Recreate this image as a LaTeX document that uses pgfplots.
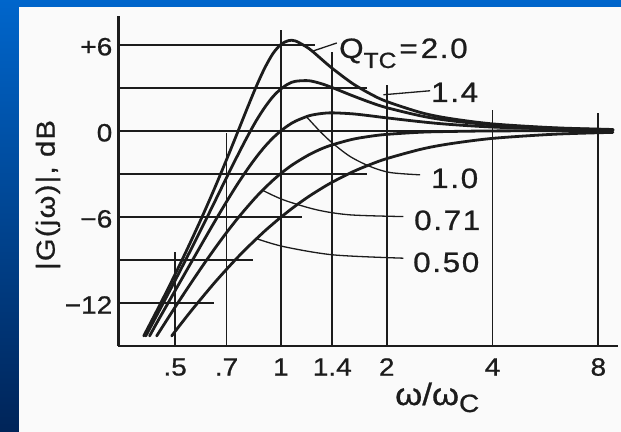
\documentclass[border=0pt]{standalone}
\usepackage{fontspec}
\setmainfont{Liberation Sans}[FakeStretch=1.12, FakeBold=0.8]
\usepackage{pgfplots}
\pgfplotsset{compat=1.18}

\definecolor{ink}{RGB}{28,28,28}
\definecolor{slidetop}{RGB}{0,102,204}
\definecolor{slidebot}{RGB}{0,36,88}
\newcommand{\fs}[1]{\fontsize{#1}{#1}\selectfont}

\pgfplotsset{
  curve/.style={ink, line width=2.8pt, smooth, no markers, line cap=round, line join=round},
  gseg/.style={ink, line width=1.8pt, no markers},
  leader/.style={ink, line width=1.3pt, smooth, no markers},
}

\begin{document}
\begin{tikzpicture}
\useasboundingbox (0,0) rectangle (621pt,431pt);
% slide background and the scanned page
\shade[top color=slidetop, bottom color=slidebot] (-2pt,-2pt) rectangle (623pt,433pt);
\fill[white!98!black] (19pt,-3pt) rectangle (624pt,424pt);

\begin{axis}[
  at={(118.5pt,85pt)}, anchor=south west,
  scale only axis, width=499.5pt, height=330pt,
  xmode=log, xmin=0.345, xmax=9.1, ymin=-15, ymax=8,
  axis lines*=left, axis line style={-, line width=2.2pt, draw=ink},
  major tick length=0pt, tick style={draw=none},
  xtick={0.5,0.7,1,1.4,2,4,8}, xticklabels={.5,.7,1,1.4,2,4,8},
  ytick={-12,-6,0,6}, yticklabels={−12,−6,0,+6},
  xticklabel style={anchor=center, yshift=-21pt, font=\fs{25}, text=ink},
  yticklabel style={anchor=east, inner sep=0pt, xshift=-6pt, yshift=-2pt, font=\fs{25}, text=ink},
  clip=false,
]
% partial grid, as in the scan
\addplot[gseg] coordinates {(0.345,6) (1.251,6)};
\addplot[gseg] coordinates {(0.345,3) (1.759,3)};
\addplot[gseg] coordinates {(0.345,0) (8.8,0)};
\addplot[gseg] coordinates {(0.345,-3) (1.756,-3)};
\addplot[gseg] coordinates {(0.345,-6) (1.147,-6)};
\addplot[gseg] coordinates {(0.345,-9) (0.833,-9)};
\addplot[gseg] coordinates {(0.345,-12) (0.646,-12)};
\addplot[gseg] coordinates {(0.5,-15) (0.5,-8.45)};
\addplot[gseg] coordinates {(0.7,-15) (0.7,-0.15)};
\addplot[gseg] coordinates {(1,-15) (1,7.0)};
\addplot[gseg] coordinates {(1.4,-15) (1.4,5.46)};
\addplot[gseg] coordinates {(2,-15) (2,3.2)};
\addplot[gseg] coordinates {(4,-15) (4,1.42)};
\addplot[gseg] coordinates {(8,-15) (8,1.24)};

% Q = 2.0
\addplot[curve] coordinates {(0.407,-14.3) (0.45,-12.24) (0.5,-10.00) (0.55,-7.88) (0.6,-5.86)
  (0.65,-3.91) (0.7,-2.02) (0.75,-0.21) (0.8,1.51) (0.85,3.07) (0.9,4.39) (0.95,5.40) (1,6.02)
  (1.05,6.28) (1.1,6.26) (1.2,5.74) (1.3,5.02) (1.4,4.35) (1.6,3.29) (1.8,2.56) (2,2.04)
  (2.5,1.27) (3,0.87) (4,0.48) (6,0.21) (8.8,0.09)};
% Q = 1.4
\addplot[curve] coordinates {(0.4125,-14.3) (0.45,-12.56) (0.5,-10.43) (0.55,-8.45) (0.6,-6.61)
  (0.65,-4.88) (0.7,-3.27) (0.75,-1.80) (0.8,-0.47) (0.85,0.69) (0.9,1.64) (0.95,2.39) (1,2.92)
  (1.05,3.27) (1.1,3.45) (1.2,3.49) (1.3,3.29) (1.4,3.01) (1.6,2.44) (1.8,1.97) (2,1.61)
  (2.5,1.04) (3,0.72) (4,0.41) (6,0.18) (8.8,0.08)};
% Q = 1.0
\addplot[curve] coordinates {(0.423,-14.3) (0.45,-13.11) (0.5,-11.14) (0.55,-9.36) (0.6,-7.74)
  (0.65,-6.27) (0.7,-4.95) (0.75,-3.77) (0.8,-2.74) (0.85,-1.85) (0.9,-1.10) (0.95,-0.49) (1,0)
  (1.05,0.38) (1.1,0.67) (1.2,1.04) (1.3,1.20) (1.4,1.25) (1.6,1.18) (1.8,1.04) (2,0.90)
  (2.5,0.63) (3,0.45) (4,0.26) (6,0.12) (8.8,0.05)};
% Q = 0.71
\addplot[curve] coordinates {(0.443,-14.3) (0.5,-12.29) (0.55,-10.75) (0.6,-9.38)
  (0.65,-8.17) (0.7,-7.10) (0.75,-6.16) (0.8,-5.34) (0.85,-4.61) (0.9,-3.99) (0.95,-3.44) (1,-2.97)
  (1.05,-2.57) (1.1,-2.23) (1.2,-1.68) (1.3,-1.27) (1.4,-0.98) (1.6,-0.59) (1.8,-0.38) (2,-0.25)
  (2.5,-0.10) (3,-0.05) (4,-0.01) (6,0) (8.8,0)};
% Q = 0.50
\addplot[curve] coordinates {(0.489,-14.3) (0.5,-13.98) (0.55,-12.68) (0.6,-11.55)
  (0.65,-10.54) (0.7,-9.66) (0.75,-8.87) (0.8,-8.17) (0.85,-7.55) (0.9,-6.98) (0.95,-6.48) (1,-6.02)
  (1.05,-5.61) (1.1,-5.23) (1.2,-4.58) (1.3,-4.04) (1.4,-3.58) (1.6,-2.86) (1.8,-2.34) (2,-1.94)
  (2.5,-1.29) (3,-0.92) (4,-0.53) (6,-0.24) (8.8,-0.11)};

% leader lines to the Q labels
\addplot[leader] coordinates {(1.224,5.53) (1.442,6.12)};
\addplot[leader] coordinates {(1.956,2.51) (2.658,2.79)};
\addplot[leader] coordinates {(1.185,0.95) (1.293,-0.05) (1.396,-0.82) (1.573,-1.79) (1.794,-2.49) (2.045,-2.91) (2.489,-3.07)};
\addplot[leader] coordinates {(0.8823,-4.12) (1.0165,-4.815) (1.265,-5.51) (1.573,-5.86) (2.231,-5.98)};
\addplot[leader] coordinates {(0.845,-7.49) (1.0165,-8.07) (1.41,-8.65) (2.231,-8.88)};
\end{axis}

% texts placed in pixel units, y measured down from the top
\begin{scope}[x=1pt, y=-1pt, yshift=431pt, every node/.style={text=ink, inner sep=0pt}]
\node[anchor=base west] at (339,58)
  {\fs{28}Q\raisebox{-10pt}{\fs{22}TC}\kern3pt=\kern3pt\addfontfeature{LetterSpace=6}2.0};
\node[anchor=base west] at (431,102) {\fs{28}\addfontfeature{LetterSpace=6}1.4};
\node[anchor=base west] at (431,188) {\fs{28}\addfontfeature{LetterSpace=6}1.0};
\node[anchor=base west] at (414,230) {\fs{28}\addfontfeature{LetterSpace=6}0.71};
\node[anchor=base west] at (413,272) {\fs{28}\addfontfeature{LetterSpace=6}0.50};
\node[anchor=base west] at (395,405) {\fs{31}ω/ω\raisebox{-7pt}{\fs{25}C}};
\node[rotate=90, anchor=center] at (48,195) {\fs{26}\addfontfeature{LetterSpace=5}|G(jω)|, dB};
\end{scope}
\end{tikzpicture}
\end{document}
